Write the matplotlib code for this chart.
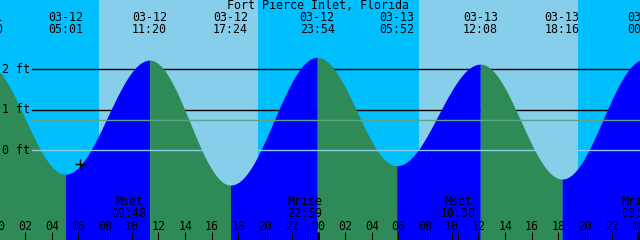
import numpy as np
import matplotlib
matplotlib.use("Agg")
import matplotlib.pyplot as plt

# tide events (high / low)
event_dates = ["03-11", "03-12", "03-12", "03-12", "03-12", "03-13", "03-13", "03-13", "03-14"]
event_times = ["23:00", "05:01", "11:20", "17:24", "23:54", "05:52", "12:08", "18:16", "00:27"]
event_heights = [2.15, -0.60, 2.23, -0.87, 2.30, -0.39, 2.13, -0.72, 2.25]

sunrise_times = ["03-12 07:32", "03-13 07:31"]
sunset_times = ["03-12 19:28", "03-13 19:29"]

moon_labels = ["Mset", "Mrise", "Mset", "Mrise"]
moon_dates = ["03-12", "03-12", "03-13", "03-14"]
moon_times = ["09:48", "22:59", "10:30", "00:03"]

now_time = "03-12 06:07"
height_lines = [2, 1]
msl = 0.74
title = "Fort Pierce Inlet, Florida"

day_offset = {"03-11": -24, "03-12": 0, "03-13": 24, "03-14": 48}


def to_hours(date, hm):
    h, m = hm.split(":")
    return day_offset[date] + int(h) + int(m) / 60


def tide_at(t, ev_t, ev_h):
    i = np.clip(np.searchsorted(ev_t, t) - 1, 0, len(ev_t) - 2)
    t0, t1 = ev_t[i], ev_t[i + 1]
    h0, h1 = ev_h[i], ev_h[i + 1]
    f = (1 - np.cos(np.pi * (t - t0) / (t1 - t0))) / 2
    return h0 + (h1 - h0) * f


ev_t = np.array([to_hours(d, t) for d, t in zip(event_dates, event_times)])
ev_h = np.array(event_heights)

x0 = 1.5 / 13.333
x1 = x0 + 48
ylo, yhi = -90 / 40.3, 150 / 40.3

fig = plt.figure(figsize=(6.4, 2.4), dpi=100)
ax = fig.add_axes([0, 0, 1, 1])
ax.set_xlim(x0, x1)
ax.set_ylim(ylo, yhi)
ax.axis("off")

night = "#00BFFF"
day = "#87CEEB"
ax.axvspan(x0 - 2, x1 + 2, color=night, zorder=0, lw=0)
for sr, ss in zip(sunrise_times, sunset_times):
    a = to_hours(*sr.split(" "))
    b = to_hours(*ss.split(" "))
    ax.axvspan(a, b, color=day, zorder=0, lw=0)

for lv in height_lines:
    ax.axhline(lv, xmin=0.05, xmax=1, color="black", lw=1.0, zorder=1)

# filled tide curve: rising blue, falling green
for i in range(len(ev_t) - 1):
    tt = np.linspace(ev_t[i], ev_t[i + 1], 200)
    hh = tide_at(tt, ev_t, ev_h)
    col = "#0000FF" if ev_h[i + 1] > ev_h[i] else "#2E8B57"
    ax.fill_between(tt, ylo - 1, hh, color=col, lw=0, zorder=2)

ax.axhline(msl, xmin=0.05, xmax=1, color="#5aa589", lw=1.0, zorder=3)
ax.axhline(0, xmin=0.05, xmax=1, color="#8ccbe6", lw=1.0, zorder=3)

for lv in [2, 1, 0]:
    ax.text(2 / 640, lv, f"{lv} ft", transform=ax.get_yaxis_transform(),
            ha="left", va="center", family="DejaVu Sans Mono", fontsize=8.4, zorder=4)

tr = ax.get_xaxis_transform()
ax.text(24, 1 - 5.5 / 240, title, transform=tr, ha="center", va="center",
        family="DejaVu Sans Mono", fontsize=8.4, zorder=4)
for d, t, x in zip(event_dates, event_times, ev_t):
    ax.text(x, 1 - 17.5 / 240, d, transform=tr, ha="center", va="center",
            family="DejaVu Sans Mono", fontsize=8.4, zorder=4, clip_on=False)
    ax.text(x, 1 - 29.5 / 240, t, transform=tr, ha="center", va="center",
            family="DejaVu Sans Mono", fontsize=8.4, zorder=4, clip_on=False)

for lab, d, t in zip(moon_labels, moon_dates, moon_times):
    x = to_hours(d, t)
    ax.text(x, 1 - 201.5 / 240, lab, transform=tr, ha="center", va="center",
            family="DejaVu Sans Mono", fontsize=8.4, zorder=4)
    ax.text(x, 1 - 213.5 / 240, t, transform=tr, ha="center", va="center",
            family="DejaVu Sans Mono", fontsize=8.4, zorder=4)
    ax.plot([x, x], [0, 8 / 240], transform=tr, color="black", lw=0.72, zorder=4)

for h in range(0, 50, 2):
    ax.text(h, 1 - 226 / 240, f"{h % 24:02d}", transform=tr, ha="center", va="center",
            family="DejaVu Sans Mono", fontsize=8.4, zorder=4)
    lw = 2.0 if h % 24 == 0 else 0.72
    ax.plot([h, h], [0, 8 / 240], transform=tr, color="black", lw=lw, zorder=4,
            solid_capstyle="butt")

nt = to_hours(*now_time.split(" "))
ax.plot([nt], [tide_at(np.array([nt]), ev_t, ev_h)[0] + 0.04], marker="+", color="black",
        ms=7, mew=1.0, zorder=5)

fig.savefig("out.png", dpi=100)
